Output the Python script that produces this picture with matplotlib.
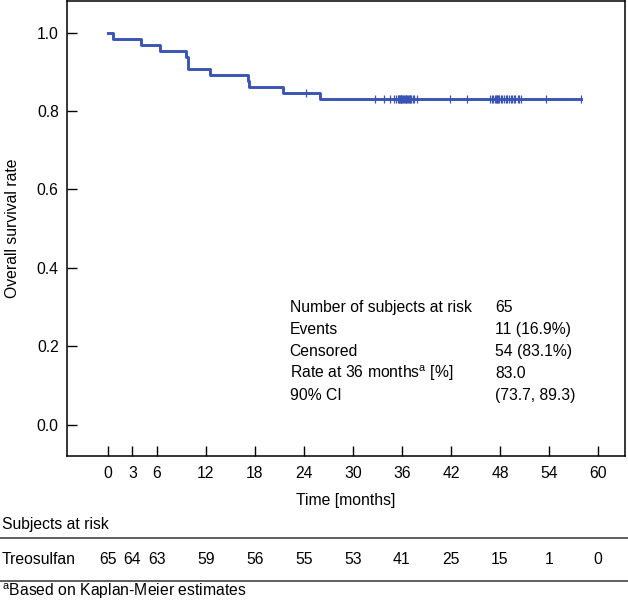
import numpy as np
import matplotlib.pyplot as plt
from matplotlib.lines import Line2D
import matplotlib.transforms as mtransforms

plt.rcParams['font.family'] = ['Liberation Sans', 'DejaVu Sans']
plt.rcParams['mathtext.fontset'] = 'custom'
plt.rcParams['mathtext.rm'] = 'Liberation Sans'

# Tiempos de eventos (meses) y censuras
eventos = [0.6, 4.0, 6.4, 9.6, 9.8, 9.8, 12.5, 17.1, 17.3, 21.4, 26.0]
censuras = [24.3,
            32.7, 33.8, 34.6, 35.0, 35.3, 35.5, 35.6, 35.7, 35.8, 35.85, 35.9, 35.95,
            36.05, 36.15, 36.25, 36.35, 36.45, 36.55, 36.65, 36.75, 36.85, 36.95,
            37.05, 37.15, 37.3, 37.5, 37.9, 41.9,
            44.0, 46.8, 47.0, 47.2, 47.35, 47.5, 47.6, 47.7, 47.8, 47.9,
            48.1, 48.3, 48.5, 48.7, 48.9, 49.1, 49.3, 49.5, 49.7, 49.9, 50.2, 50.4, 50.6,
            53.7,
            57.9]

tiempos_tabla = [0, 3, 6, 12, 18, 24, 30, 36, 42, 48, 54, 60]
en_riesgo = [65, 64, 63, 59, 56, 55, 53, 41, 25, 15, 1, 0]

filas_resumen = ["Number of subjects at risk", "Events", "Censored",
                 r"Rate at 36 months$^{\mathrm{a}}$ [%]", "90% CI"]
valores_resumen = ["65", "11 (16.9%)", "54 (83.1%)", "83.0", "(73.7, 89.3)"]

color = '#3a54b4'
fs = 11.3


def kaplan_meier(ev, cens):
    t = np.array(ev + cens)
    d = np.array([1] * len(ev) + [0] * len(cens))
    orden = np.argsort(t, kind='stable')
    t, d = t[orden], d[orden]
    s = 1.0
    xs, ys = [0.0], [1.0]
    cx, cy = [], []
    for tu in np.unique(t):
        mask = t == tu
        muertes = d[mask].sum()
        riesgo = np.sum(t >= tu)
        if muertes > 0:
            s *= 1 - muertes / riesgo
            xs.append(tu)
            ys.append(s)
        if (d[mask] == 0).any():
            cx.append(tu)
            cy.append(s)
    xs.append(t.max())
    ys.append(s)
    return np.array(xs), np.array(ys), cx, cy


xs, ys, cx, cy = kaplan_meier(eventos, censuras)

fig = plt.figure(figsize=(6.28, 6.01), dpi=100)
ax = fig.add_axes([0.1067, 0.2413, 0.8883, 0.7567])

ax.step(xs, ys, where='post', color=color, lw=2.1)
ax.plot(cx, cy, ls='none', marker='|', ms=6, mew=0.9, color=color)

ax.set_xlim(-5.0, 63.3)
ax.set_ylim(-0.08, 1.08)
ax.set_xticks(tiempos_tabla)
ax.set_yticks(np.arange(0, 1.01, 0.2))
ax.set_yticklabels([f"{v:.1f}" for v in np.arange(0, 1.01, 0.2)])
ax.tick_params(direction='in', length=7, width=1, labelsize=fs, pad=6)
ax.tick_params(axis='x', pad=7)
for sp in ax.spines.values():
    sp.set_linewidth(1.1)
ax.set_xlabel("Time [months]", fontsize=fs, labelpad=9)
ax.set_ylabel("Overall survival rate", fontsize=fs, labelpad=12)

# Tabla de resumen dentro del grafico
for i, (f, v) in enumerate(zip(filas_resumen, valores_resumen)):
    yy = 0.3275 - i * 0.0484
    ax.text(0.399, yy, f, transform=ax.transAxes, fontsize=fs, va='center')
    ax.text(0.768, yy, v, transform=ax.transAxes, fontsize=fs, va='center')

# Tabla de sujetos en riesgo
fig.text(0.003, 1 - 524 / 601, "Subjects at risk", fontsize=fs, va='center')
for yl in [538, 581]:
    fig.add_artist(Line2D([0, 1], [1 - yl / 601] * 2, transform=fig.transFigure,
                          color='#333333', lw=1.1))
fig.text(0.003, 1 - 560 / 601, "Treosulfan", fontsize=fs, va='center')
trans = mtransforms.blended_transform_factory(ax.transData, fig.transFigure)
for t, n in zip(tiempos_tabla, en_riesgo):
    ax.text(t, 1 - 560 / 601, str(n), transform=trans, fontsize=fs,
            va='center', ha='center', clip_on=False)
fig.text(0.003, 1 - 591 / 601, r"$^{\mathrm{a}}$Based on Kaplan-Meier estimates",
         fontsize=fs, va='center')

fig.savefig("out.png", dpi=100)
